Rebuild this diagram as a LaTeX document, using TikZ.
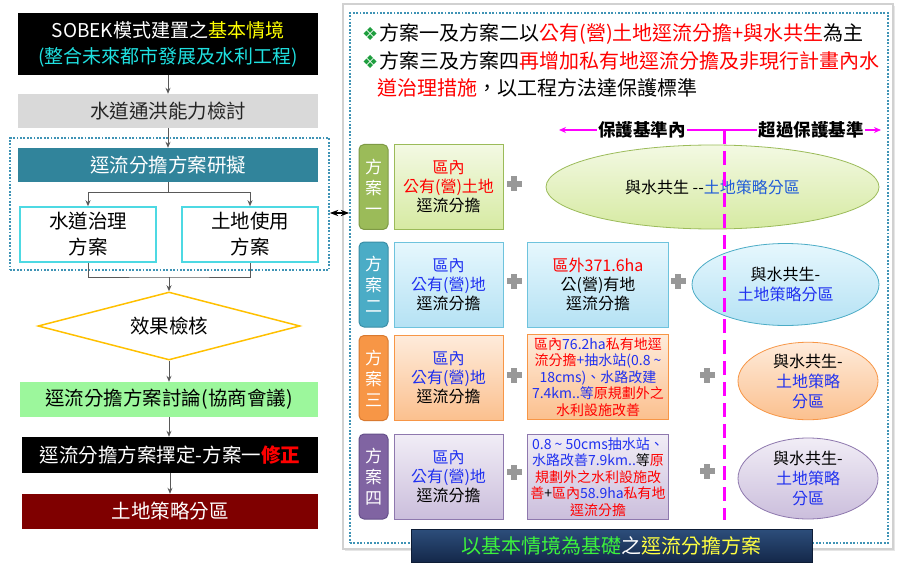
\documentclass[tikz,border=0pt]{standalone}
\usepackage{fontspec}
\setmainfont{Noto Sans CJK TC}
\newfontfamily\dejavu{DejaVu Sans}
\usetikzlibrary{arrows.meta,shapes.geometric,shadows}
\tikzset {>=Stealth}

\newcommand\fsz[2]{\fontsize{#1}{#2}\selectfont}
\newcommand\bulletmark{{\dejavu\fsz{18}{18}\textcolor{bulletgreen}{❖}}\hspace{1pt}}

\definecolor{boxgray}{HTML}{D9D9D9}
\definecolor{boxteal}{HTML}{31849B}
\definecolor{subcyan}{HTML}{4DD9E3}
\definecolor{framedot}{HTML}{3F93B5}
\definecolor{gold}{HTML}{FFC000}
\definecolor{boxgreen}{HTML}{9CF79C}
\definecolor{boxdarkred}{HTML}{7F0000}
\definecolor{hlyellow}{HTML}{FFFF00}
\definecolor{hlcyan}{HTML}{1FE0E0}
\definecolor{txtred}{HTML}{FF0000}
\definecolor{txtblue}{HTML}{1F30F0}
\definecolor{zoneblue}{HTML}{1F5BD8}
\definecolor{arrowgray}{HTML}{595959}
\definecolor{scalepink}{HTML}{FF00FF}
\definecolor{plusgray}{HTML}{989898}
\definecolor{bulletgreen}{HTML}{1E9E3E}
\definecolor{olivelabel}{HTML}{9BBB59}
\definecolor{olivedark}{HTML}{7E9A45}
\definecolor{olivetop}{HTML}{F3F9E3}
\definecolor{olivebot}{HTML}{D6EAA2}
\definecolor{tealabel}{HTML}{4BACC6}
\definecolor{tealdark}{HTML}{3A8EA6}
\definecolor{tealtop}{HTML}{E6F7FD}
\definecolor{tealbot}{HTML}{B5E2F4}
\definecolor{tealline}{HTML}{6EC3DD}
\definecolor{orangelabel}{HTML}{F79646}
\definecolor{orangedark}{HTML}{D97A30}
\definecolor{orangetop}{HTML}{FEEBDB}
\definecolor{orangebot}{HTML}{FBC08E}
\definecolor{purplelabel}{HTML}{8064A2}
\definecolor{purpledark}{HTML}{65508A}
\definecolor{purpletop}{HTML}{F1EDF6}
\definecolor{purplebot}{HTML}{CBBEDC}
\definecolor{purpleline}{HTML}{8E78AE}
\definecolor{bannertop}{HTML}{2D4E7B}
\definecolor{bannerbot}{HTML}{14284A}
\definecolor{bannerdark}{HTML}{0E1D36}
\definecolor{bannergreen}{HTML}{3CF23C}
\definecolor{bannergold}{HTML}{FFFF40}

\tikzset{
  flowbox/.style={minimum width=300pt, minimum height=34pt, inner sep=0pt, align=center, font=\fsz{19.5}{26}},
  subbox/.style={draw=subcyan, line width=1.5pt, fill=white, minimum width=136pt, minimum height=55pt, inner sep=0pt, align=center, font=\fsz{19.5}{26}},
  dotframe/.style={draw=framedot, line width=1.8pt, dash pattern=on 1.8pt off 1.6pt, inner sep=0pt},
  flowline/.style={draw=arrowgray, line width=1pt},
  flowarrow/.style={flowline, -{Stealth[length=6pt,width=5pt]}},
  note/.style={inner sep=0pt, font=\fsz{20}{27}},
  headlabel/.style={fill=white, inner sep=1.5pt, font=\bfseries\fsz{17.5}{20}},
  scaleline/.style={draw=scalepink, line width=2pt, {Stealth[length=7pt,width=6pt]}-{Stealth[length=7pt,width=6pt]}},
  divider/.style={draw=scalepink, line width=3pt, dash pattern=on 14pt off 7pt},
  labelbox/.style={rounded corners=5pt, line width=1pt, minimum width=29pt, minimum height=85pt, inner sep=0pt, align=center, text=white, font=\fsz{17}{21}},
  planbox/.style={line width=0.8pt, minimum width=109pt, minimum height=85pt, inner sep=0pt, align=center, font=\fsz{16}{19}},
  smallbox/.style={planbox, minimum width=141pt, font=\fsz{14}{16.5}},
  zonebox/.style={ellipse, line width=0.8pt, inner sep=0pt, align=center, font=\fsz{16}{20}},
  plusmark/.style={minimum size=16pt, inner sep=0pt,
    path picture={
      \fill[plusgray] ([xshift=-7.5pt,yshift=-2.9pt]path picture bounding box.center) rectangle ([xshift=7.5pt,yshift=2.9pt]path picture bounding box.center);
      \fill[plusgray] ([xshift=-2.9pt,yshift=-7.5pt]path picture bounding box.center) rectangle ([xshift=2.9pt,yshift=7.5pt]path picture bounding box.center);
    }},
  banner/.style={top color=bannertop, bottom color=bannerbot, draw=bannerdark, line width=1pt, minimum width=401pt, minimum height=33pt, inner sep=0pt, font=\fsz{20}{24}}
}

\begin{document}
\begin{tikzpicture}[x=1pt,y=-1pt]
\useasboundingbox (0,0) rectangle (901,569);

\node[dotframe, minimum width=319pt, minimum height=132pt] (leftframe) at (169.5,204) {};
\node[flowbox, fill=black, text=white, minimum height=62pt, font=\fsz{19}{26}] (sobek) at (168,44) {SOBEK模式建置之\textcolor{hlyellow}{基本情境}\\\textcolor{hlcyan}{(整合未來都市發展及水利工程)}};
\node[flowbox, fill=boxgray, text=black!85] (check) at (168,111) {水道通洪能力檢討};
\node[flowbox, fill=boxteal, text=white] (plan) at (168,165) {逕流分擔方案研擬};
\node[subbox] (river) at (88,234.5) {水道治理\\方案};
\node[subbox] (land) at (250,234.5) {土地使用\\方案};
\node[diamond, draw=gold, line width=1.5pt, aspect=3.85, minimum width=262pt, minimum height=68pt, inner sep=0pt, font=\fsz{19.5}{26}] (verify) at (169,326) {效果檢核};
\node[flowbox, fill=boxgreen, minimum width=298pt, minimum height=35pt] (discuss) at (169,399.5) {逕流分擔方案討論(協商會議)};
\node[flowbox, fill=black, text=white, minimum width=296pt, minimum height=36pt] (choose) at (170,455) {逕流分擔方案擇定-方案一\textcolor{txtred}{\bfseries 修正}};
\node[flowbox, fill=boxdarkred, text=white, minimum width=296pt, minimum height=35pt] (zoning) at (170,511.5) {土地策略分區};

\draw[flowarrow] (sobek) -- (check);
\draw[flowarrow] (check) -- (plan);
\coordinate (fork) at (168,193);
\draw[flowarrow] (plan.south) -- (fork) -| (river.north);
\draw[flowarrow] (fork) -| (land.north);
\coordinate (merge) at (169,277);
\draw[flowline] (river.south) |- (merge) -| (land.south);
\draw[flowarrow] (merge) -- (verify.north);
\draw[flowarrow] (verify) -- (discuss);
\draw[flowarrow] (discuss.south) -- (discuss.south |- choose.north);
\draw[flowarrow] (choose) -- (zoning);

\node[draw=black!18, line width=1.2pt, fill=white, drop shadow={opacity=0.2,shadow xshift=2pt,shadow yshift=-2pt}, minimum width=550pt, minimum height=545pt] (panel) at (618,276.5) {};
\node[dotframe, minimum width=538pt, minimum height=530pt] (rightframe) at (619,278) {};
\draw[<->, line width=1.2pt] ([yshift=-9pt]leftframe.east) -- ([yshift=-9pt]leftframe.east -| rightframe.west);

\node[note, anchor=west] (note1) at (362,34) {\bulletmark 方案一及方案二以\textcolor{txtred}{公有(營)土地逕流分擔+與水共生}為主};
\node[note, anchor=west] (note2) at (362,61) {\bulletmark 方案三及方案四\textcolor{txtred}{再增加私有地逕流分擔及非現行計畫內水}};
\node[note, anchor=west] (note3) at (377,88) {\textcolor{txtred}{道治理措施}，以工程方法達保護標準};

\coordinate (scaleleft) at (559,130);
\coordinate (scaleright) at (881,130);
\coordinate (divtop) at (724,130);
\coordinate (divbot) at (724,520);
\draw[scaleline] (scaleleft) -- node[pos=0.258, headlabel] (within) {保護基準內} node[pos=0.783, headlabel] (beyond) {超過保護基準} (scaleright);

\node[labelbox, fill=olivelabel, draw=olivedark] (label1) at (373.5,187) {方\\案\\一};
\node[planbox, top color=olivetop, bottom color=olivebot, draw=olivelabel] (inner1) at (448.5,187) {\textcolor{txtred}{區內}\\\textcolor{txtred}{公有(營)土地}\\逕流分擔};
\node[plusmark] (plus1a) at (514,184) {};
\node[zonebox, top color=olivetop, bottom color=olivebot, draw=olivelabel, minimum width=333pt, minimum height=84pt] (zone1) at (712.5,187) {與水共生 -{}-\textcolor{zoneblue}{土地策略分區}};

\node[labelbox, fill=tealabel, draw=tealdark] (label2) at (373.5,284.5) {方\\案\\二};
\node[planbox, top color=tealtop, bottom color=tealbot, draw=tealline] (inner2) at (448.5,284.5) {\textcolor{txtblue}{區內}\\\textcolor{txtblue}{公有(營)地}\\逕流分擔};
\node[plusmark] (plus2a) at (514,281) {};
\node[planbox, minimum width=141pt, top color=tealtop, bottom color=tealbot, draw=tealline] (outer2) at (598,284.5) {\textcolor{txtred}{區外371.6ha}\\公(營)有地\\逕流分擔};
\node[plusmark] (plus2b) at (678,281) {};
\node[zonebox, top color=tealtop, bottom color=tealbot, draw=tealabel, minimum width=187pt, minimum height=82pt] (zone2) at (785.5,284.5) {與水共生-\\\textcolor{txtblue}{土地策略分區}};

\node[labelbox, fill=orangelabel, draw=orangedark] (label3) at (373.5,378) {方\\案\\三};
\node[planbox, top color=orangetop, bottom color=orangebot, draw=orangelabel] (inner3) at (448.5,378) {\textcolor{txtblue}{區內}\\\textcolor{txtblue}{公有(營)地}\\逕流分擔};
\node[plusmark] (plus3a) at (514,375) {};
\node[smallbox, top color=orangetop, bottom color=orangebot, draw=orangelabel] (outer3) at (598,377) {\textcolor{txtred}{區內}\textcolor{txtblue}{76.2ha}\textcolor{txtred}{私有地逕}\\\textcolor{txtred}{流分擔}\textcolor{txtblue}{+抽水站(0.8 \textasciitilde}\\\textcolor{txtblue}{18cms)、水路改建}\\\textcolor{txtblue}{7.4km..等}\textcolor{txtred}{原規劃外之}\\\textcolor{txtred}{水利設施改善}};
\node[plusmark] (plus3b) at (707,375) {};
\node[zonebox, top color=orangetop, bottom color=orangebot, draw=orangelabel, minimum width=140pt, minimum height=72pt] (zone3) at (808,381) {與水共生-\\\textcolor{txtblue}{土地策略}\\\textcolor{txtblue}{分區}};

\node[labelbox, fill=purplelabel, draw=purpledark] (label4) at (373.5,476.5) {方\\案\\四};
\node[planbox, top color=purpletop, bottom color=purplebot, draw=purpleline] (inner4) at (448.5,476.5) {\textcolor{txtblue}{區內}\\\textcolor{txtblue}{公有(營)地}\\逕流分擔};
\node[plusmark] (plus4a) at (514,472) {};
\node[smallbox, top color=purpletop, bottom color=purplebot, draw=purpleline] (outer4) at (598,477) {\textcolor{txtblue}{0.8 \textasciitilde{} 50cms抽水站、}\\\textcolor{txtblue}{水路改善7.9km..}等\textcolor{txtred}{原}\\\textcolor{txtred}{規劃外之水利設施改}\\\textcolor{txtred}{善}+\textcolor{txtred}{區內}\textcolor{txtblue}{58.9ha}\textcolor{txtred}{私有地}\\\textcolor{txtred}{逕流分擔}};
\node[plusmark] (plus4b) at (707,471) {};
\node[zonebox, top color=purpletop, bottom color=purplebot, draw=purpleline, minimum width=140pt, minimum height=81pt] (zone4) at (808,478.5) {與水共生-\\\textcolor{txtblue}{土地策略}\\\textcolor{txtblue}{分區}};

\draw[divider] (divtop) -- (divbot);

\node[banner] (basis) at (611.5,545.5) {\textcolor{bannergreen}{以基本情境為基礎}\textcolor{white}{之}\textcolor{bannergold}{逕流分擔方案}};
\end{tikzpicture}
\end{document}
